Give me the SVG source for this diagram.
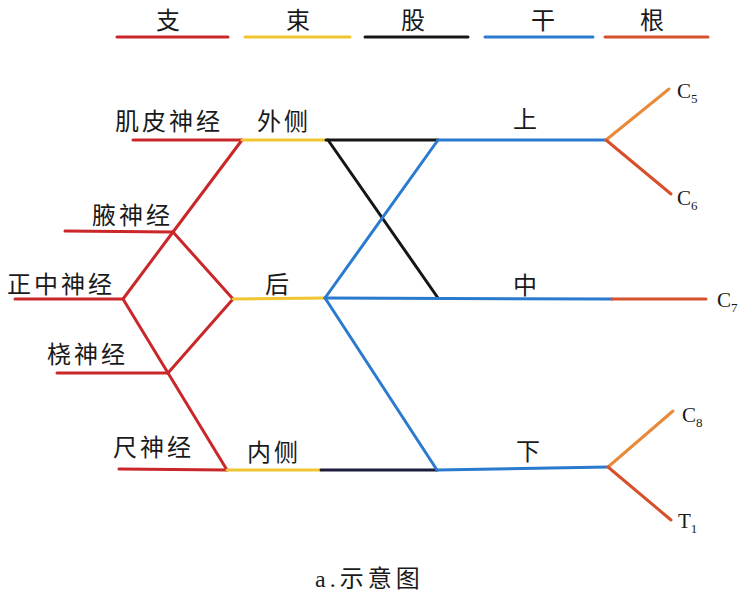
<svg xmlns="http://www.w3.org/2000/svg" width="750" height="603" viewBox="0 0 750 603">
<style>
.t{font-family:"Noto Sans CJK SC","Noto Sans",sans-serif;font-size:24px;fill:#1a1a1a}
.lb{letter-spacing:3px}
.s{font-family:"Liberation Serif","Noto Sans CJK SC",serif;font-size:21px;fill:#1a1a1a}
.sub{font-size:13px}
.l{fill:none;stroke-width:3;stroke-linecap:round;stroke-linejoin:round}
.red{stroke:#c9272a}
.yel{stroke:#f1c531}
.blk{stroke:#161616}
.nav{stroke:#1c1c3c}
.blu{stroke:#2a7ad0}
.rt{stroke:#d6502c}
.org{stroke:#e88a3a}
</style>
<rect width="750" height="603" fill="#ffffff"/>
<g id="legend">
<g id="legend-zhi"><line class="l red" x1="117" y1="37" x2="228" y2="37"/><text class="t" x="168" y="29" text-anchor="middle">支</text></g>
<g id="legend-shu"><line class="l yel" x1="245" y1="37" x2="350" y2="37"/><text class="t" x="298" y="29" text-anchor="middle">束</text></g>
<g id="legend-gu"><line class="l blk" x1="365" y1="37" x2="468" y2="37"/><text class="t" x="413" y="29" text-anchor="middle">股</text></g>
<g id="legend-gan"><line class="l blu" x1="485" y1="37" x2="593" y2="37"/><text class="t" x="543" y="29" text-anchor="middle">干</text></g>
<g id="legend-gen"><line class="l rt" x1="605" y1="37" x2="708" y2="37"/><text class="t" x="652" y="29" text-anchor="middle">根</text></g>
</g>
<g id="connectors">
<line class="l red" x1="133" y1="140" x2="242" y2="140"/>
<line class="l red" x1="242" y1="140" x2="173" y2="232"/>
<line class="l red" x1="65" y1="231" x2="173" y2="232"/>
<line class="l red" x1="173" y1="232" x2="123" y2="299"/>
<line class="l red" x1="173" y1="232" x2="233" y2="299"/>
<line class="l red" x1="15" y1="299" x2="123" y2="299"/>
<line class="l red" x1="123" y1="299" x2="168" y2="373"/>
<line class="l red" x1="233" y1="299" x2="168" y2="373"/>
<line class="l red" x1="57" y1="373" x2="168" y2="373"/>
<line class="l red" x1="168" y1="373" x2="227" y2="470"/>
<line class="l red" x1="119" y1="469" x2="227" y2="470"/>
<line class="l yel" x1="242" y1="140" x2="326" y2="140"/>
<line class="l yel" x1="233" y1="299" x2="325" y2="298"/>
<line class="l yel" x1="227" y1="470" x2="321" y2="470"/>
<line class="l blk" x1="326" y1="140" x2="438" y2="140"/>
<line class="l blk" x1="328" y1="140" x2="438" y2="298"/>
<line class="l nav" x1="321" y1="470" x2="437" y2="470"/>
<line class="l blu" x1="438" y1="140" x2="606" y2="140"/>
<line class="l blu" x1="438" y1="140" x2="325" y2="298"/>
<line class="l blu" x1="325" y1="298" x2="612" y2="299"/>
<line class="l blu" x1="325" y1="298" x2="437" y2="470"/>
<line class="l blu" x1="437" y1="470" x2="608" y2="467"/>
<line class="l org" x1="606" y1="140" x2="669" y2="89"/>
<line class="l rt" x1="606" y1="140" x2="671" y2="194"/>
<line class="l rt" x1="612" y1="299" x2="706" y2="299"/>
<line class="l org" x1="608" y1="467" x2="673" y2="411"/>
<line class="l rt" x1="608" y1="467" x2="671" y2="520"/>
</g>
<g id="node-jipi"><text class="t lb" x="115" y="130">肌皮神经</text></g>
<g id="node-waice"><text class="t lb" x="257" y="130">外侧</text></g>
<g id="node-ye"><text class="t lb" x="92" y="224">腋神经</text></g>
<g id="node-zhengzhong"><text class="t lb" x="7" y="293">正中神经</text></g>
<g id="node-hou"><text class="t lb" x="265" y="293">后</text></g>
<g id="node-rao"><text class="t lb" x="47" y="363">桡神经</text></g>
<g id="node-chi"><text class="t lb" x="113" y="456">尺神经</text></g>
<g id="node-neice"><text class="t lb" x="247" y="461">内侧</text></g>
<g id="node-shang"><text class="t" x="513" y="128">上</text></g>
<g id="node-zhong"><text class="t" x="513" y="294">中</text></g>
<g id="node-xia"><text class="t" x="516" y="460">下</text></g>
<g id="node-c5"><text class="s" x="677" y="98">C<tspan class="sub" dy="5">5</tspan></text></g>
<g id="node-c6"><text class="s" x="677" y="205">C<tspan class="sub" dy="5">6</tspan></text></g>
<g id="node-c7"><text class="s" x="717" y="307">C<tspan class="sub" dy="5">7</tspan></text></g>
<g id="node-c8"><text class="s" x="682" y="422">C<tspan class="sub" dy="5">8</tspan></text></g>
<g id="node-t1"><text class="s" x="678" y="528">T<tspan class="sub" dy="5">1</tspan></text></g>
<g id="caption"><text class="s" x="315" y="587" style="font-size:24px;letter-spacing:4px">a.示意图</text></g>
</svg>
